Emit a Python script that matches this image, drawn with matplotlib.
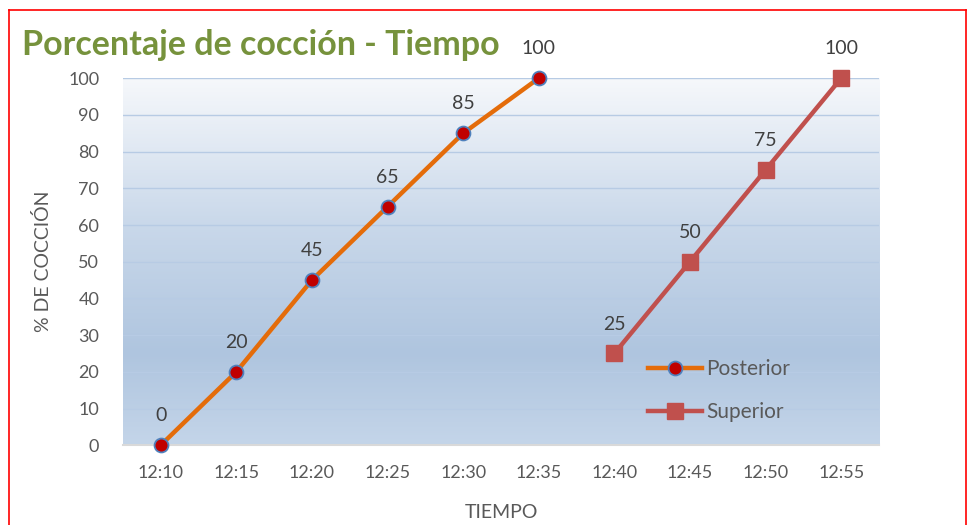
import numpy as np
import matplotlib.pyplot as plt
from matplotlib.colors import LinearSegmentedColormap
from matplotlib.lines import Line2D

plt.rcParams['font.family'] = ['Lato', 'DejaVu Sans']

times = ["12:10", "12:15", "12:20", "12:25", "12:30",
         "12:35", "12:40", "12:45", "12:50", "12:55"]
posterior_idx = [0, 1, 2, 3, 4, 5]
posterior_vals = [0, 20, 45, 65, 85, 100]
superior_idx = [6, 7, 8, 9]
superior_vals = [25, 50, 75, 100]

fig = plt.figure(figsize=(9.68, 5.25), dpi=100)
ax = fig.add_axes([0.127, 0.152, 0.781, 0.699])

# background gradient of the plot area
grad = LinearSegmentedColormap.from_list(
    "bg", [(0.0, "#c4d5e9"), (0.25, "#afc5df"), (0.6, "#c9d8ea"), (1.0, "#f6f8fb")])
ax.imshow(np.linspace(0, 1, 256).reshape(-1, 1), cmap=grad, aspect="auto",
          extent=[-0.5, 9.5, 0, 100], origin="lower", zorder=0)

ax.set_xlim(-0.5, 9.5)
ax.set_ylim(0, 100)
ax.set_yticks(range(0, 101, 10))
ax.set_xticks(range(len(times)))
ax.set_xticklabels(times)
for y in range(10, 101, 10):
    ax.axhline(y, color="#b7cbe4", lw=1.0, zorder=1)

for s in ["top", "right", "left"]:
    ax.spines[s].set_visible(False)
ax.spines["bottom"].set_color("#d9d9d9")
ax.spines["bottom"].set_linewidth(1.5)
ax.tick_params(length=0, colors="#595959", labelsize=13, pad=14)
ax.tick_params(axis="y", pad=17)

ax.plot(posterior_idx, posterior_vals, color="#e46c0a", lw=3.2, marker="o",
        ms=10, mfc="#c00000", mec="#4f81bd", mew=1.3, zorder=4, clip_on=False)
ax.plot(superior_idx, superior_vals, color="#c0504d", lw=3.2, marker="s",
        ms=11, mfc="#c0504d", mec="#c0504d", zorder=4, clip_on=False)

for x, v in zip(posterior_idx, posterior_vals):
    ax.annotate(str(v), (x, v), xytext=(0, 15), textcoords="offset points",
                ha="center", va="bottom", fontsize=14, color="#404040")
for x, v in zip(superior_idx, superior_vals):
    ax.annotate(str(v), (x, v), xytext=(0, 15), textcoords="offset points",
                ha="center", va="bottom", fontsize=14, color="#404040")

ax.set_xlabel("TIEMPO", fontsize=14, color="#595959", labelpad=17)
ax.set_ylabel("% DE COCCIÓN", fontsize=14, color="#595959", labelpad=12)

handles = [
    Line2D([], [], color="#e46c0a", lw=3.2, marker="o", ms=10,
           mfc="#c00000", mec="#4f81bd", mew=1.3),
    Line2D([], [], color="#c0504d", lw=3.2, marker="s", ms=11,
           mfc="#c0504d", mec="#c0504d"),
]
leg = ax.legend(handles, ["Posterior", "Superior"], loc="center left",
                bbox_to_anchor=(0.67, 0.149), frameon=False, fontsize=15,
                labelspacing=1.1, handlelength=2.6, handletextpad=0.2)
for t in leg.get_texts():
    t.set_color("#595959")

fig.text(0.023, 0.914, "Porcentaje de cocción - Tiempo", fontsize=24.5,
         fontweight="bold", color="#76923c", ha="left", va="center")

# red frame around the chart
fig.add_artist(Line2D([0.009, 0.009], [0.0, 0.981], color="red", lw=1.2))
fig.add_artist(Line2D([0.009, 0.998], [0.981, 0.981], color="red", lw=1.2))
fig.add_artist(Line2D([0.998, 0.998], [0.0, 0.981], color="red", lw=1.2))

fig.savefig("out.png", dpi=100)
